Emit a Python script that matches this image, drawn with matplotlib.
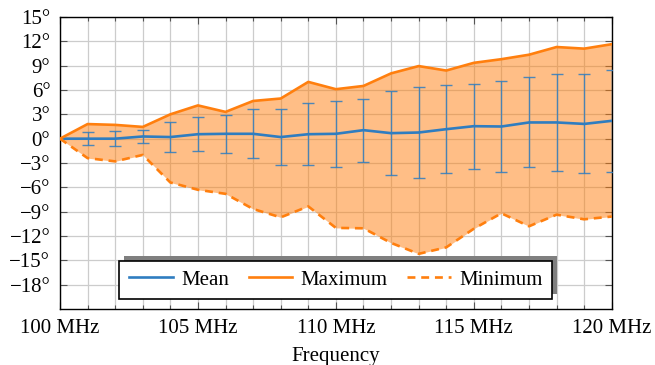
"""
Phase deviation vs frequency: mean with std error bars, max/min envelope
"""

import matplotlib
matplotlib.use("Agg")
import matplotlib.pyplot as plt
from matplotlib.patches import Rectangle
from matplotlib.ticker import FuncFormatter, MultipleLocator
import numpy as np

plt.rcParams.update({
    "font.family": ["Liberation Serif", "DejaVu Serif"],
    "font.size": 15,
})

BLUE = "#2f7dc0"
ORANGE = "#ff7f0e"

freq = list(range(100, 121))
mean_deg = [0.0, 0.0, 0.0, 0.27, 0.2, 0.55, 0.6, 0.6, 0.2, 0.55, 0.6,
            1.05, 0.68, 0.76, 1.17, 1.54, 1.5, 2.0, 2.0, 1.82, 2.2]
std_deg = [0.0, 0.8, 0.9, 0.8, 1.9, 2.1, 2.35, 3.0, 3.4, 3.8, 4.05,
           3.9, 5.15, 5.65, 5.4, 5.25, 5.6, 5.55, 6.0, 6.1, 6.27]
max_deg = [0.0, 1.8, 1.7, 1.45, 3.0, 4.1, 3.3, 4.65, 4.95, 7.0, 6.1,
           6.5, 8.05, 8.95, 8.4, 9.35, 9.8, 10.35, 11.3, 11.1, 11.65]
min_deg = [0.0, -2.4, -2.8, -2.0, -5.4, -6.3, -6.8, -8.67, -9.7, -8.35, -11.0,
           -11.05, -12.85, -14.2, -13.4, -11.1, -9.2, -10.8, -9.37, -9.94, -9.6]
y_ticks = list(range(-18, 16, 3))


def deg_fmt(v, pos):
    s = f"{int(round(v))}°"
    return s.replace("-", "\u2212")


def mhz_fmt(v, pos):
    return f"{int(round(v))} MHz"


def main():
    fig = plt.figure(figsize=(6.55, 3.65), dpi=100)
    ax = fig.add_axes([0.0916, 0.1534, 0.8424, 0.80])

    x = np.array(freq)
    ax.fill_between(x, min_deg, max_deg, color=ORANGE, alpha=0.5,
                    linewidth=0, zorder=2)
    ax.errorbar(x[1:], mean_deg[1:], yerr=std_deg[1:], fmt="none",
                ecolor=BLUE, elinewidth=1.0, capsize=4, capthick=1.0,
                alpha=0.85, zorder=3)
    ax.plot(x, mean_deg, color=BLUE, lw=1.9, label="Mean", zorder=4)
    ax.plot(x, max_deg, color=ORANGE, lw=1.9, label="Maximum", zorder=4)
    ax.plot(x, min_deg, color=ORANGE, lw=1.9, ls=(0, (3, 2.2)),
            label="Minimum", zorder=4)

    ax.set_xlim(100, 120)
    ax.set_ylim(-21, 15)
    ax.xaxis.set_major_locator(MultipleLocator(5))
    ax.xaxis.set_minor_locator(MultipleLocator(1))
    ax.set_yticks(y_ticks)
    ax.xaxis.set_major_formatter(FuncFormatter(mhz_fmt))
    ax.yaxis.set_major_formatter(FuncFormatter(deg_fmt))
    ax.tick_params(which="both", direction="in", top=True, right=True,
                   color="#555555")
    ax.tick_params(which="major", length=5, width=0.8, pad=7)
    ax.tick_params(which="minor", length=3, width=0.8)
    ax.grid(True, which="both", color="#cccccc", lw=0.9, zorder=0)
    ax.set_axisbelow(True)
    for sp in ax.spines.values():
        sp.set_linewidth(1.0)
    ax.set_xlabel("Frequency", labelpad=7)

    leg = ax.legend(loc="lower center", bbox_to_anchor=(0.5, 0.034), ncol=3,
                    frameon=True, fancybox=False, edgecolor="black",
                    framealpha=1.0, handlelength=2.1, columnspacing=0.95,
                    borderpad=0.45, handletextpad=0.4, borderaxespad=0)
    leg.get_frame().set_linewidth(1.2)
    leg.set_zorder(10)

    # pgfplots-style drop shadow, up and to the right of the legend box
    fig.canvas.draw()
    bb = leg.get_window_extent().transformed(fig.transFigure.inverted())
    dx, dy = 5 / 655, 5 / 365
    shadow = Rectangle((bb.x0 + dx, bb.y0 + dy), bb.width, bb.height,
                       transform=fig.transFigure, facecolor="#7f7f7f",
                       edgecolor="none", zorder=9)
    ax.add_artist(shadow)
    shadow.set_clip_on(False)

    fig.savefig("out.png", dpi=100)
    plt.close(fig)


if __name__ == "__main__":
    main()
